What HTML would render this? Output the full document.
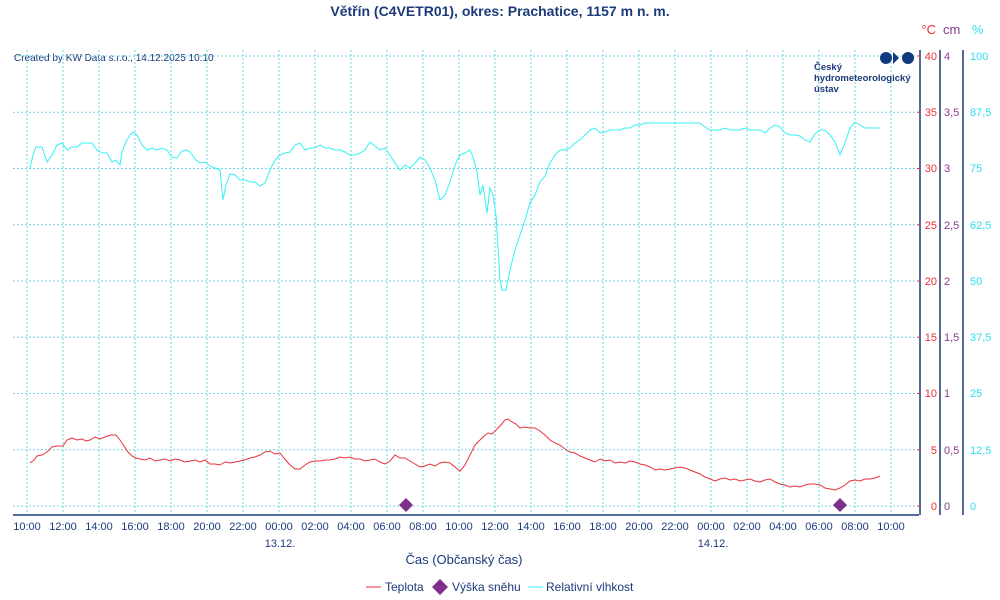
<!DOCTYPE html>
<html><head><meta charset="utf-8"><style>
html,body{margin:0;padding:0;background:#fff;}
svg{display:block;font-family:"Liberation Sans",sans-serif;}
</style></head><body>
<svg width="1000" height="600" viewBox="0 0 1000 600" xmlns="http://www.w3.org/2000/svg">
<rect width="1000" height="600" fill="#fff"/>
<text x="500" y="16" text-anchor="middle" font-size="14" font-weight="bold" fill="#1b3a7a">Větřín (C4VETR01), okres: Prachatice, 1157 m n. m.</text>
<text x="14" y="61" font-size="10" fill="#1b3a7a">Created by KW Data s.r.o., 14.12.2025 10:10</text>
<g stroke="#6fd3e0" stroke-width="1" stroke-dasharray="2,2" fill="none">
<path d="M13 56H918M13 112.25H918M13 168.5H918M13 224.75H918M13 281H918M13 337.25H918M13 393.5H918M13 449.75H918M13 506H918"/>
<path d="M27 50V515M63 50V515M99 50V515M135 50V515M171 50V515M207 50V515M243 50V515M279 50V515M315 50V515M351 50V515M387 50V515M423 50V515M459 50V515M495 50V515M531 50V515M567 50V515M603 50V515M639 50V515M675 50V515M711 50V515M747 50V515M783 50V515M819 50V515M855 50V515M891 50V515"/>
</g>
<g fill="#0e3a80">
<circle cx="886" cy="58" r="6"/><circle cx="908" cy="58" r="6"/>
<path d="M893 52 L899 58 L893 64 Z"/>
</g>
<text font-size="9.5" font-weight="bold" fill="#1b3a7a"><tspan x="814" y="70">Český</tspan><tspan x="814" y="81">hydrometeorologický</tspan><tspan x="814" y="92">ústav</tspan></text>
<g stroke="#1b3a7a" stroke-width="1.5" fill="none">
<path d="M13 515H919"/>
<path d="M920 50V515M940 50V515M963 50V515"/>
</g>
<g font-size="11" fill="#1b3a7a" text-anchor="middle">
<text x="27" y="530">10:00</text><text x="63" y="530">12:00</text><text x="99" y="530">14:00</text><text x="135" y="530">16:00</text><text x="171" y="530">18:00</text><text x="207" y="530">20:00</text><text x="243" y="530">22:00</text><text x="279" y="530">00:00</text><text x="315" y="530">02:00</text><text x="351" y="530">04:00</text><text x="387" y="530">06:00</text><text x="423" y="530">08:00</text><text x="459" y="530">10:00</text><text x="495" y="530">12:00</text><text x="531" y="530">14:00</text><text x="567" y="530">16:00</text><text x="603" y="530">18:00</text><text x="639" y="530">20:00</text><text x="675" y="530">22:00</text><text x="711" y="530">00:00</text><text x="747" y="530">02:00</text><text x="783" y="530">04:00</text><text x="819" y="530">06:00</text><text x="855" y="530">08:00</text><text x="891" y="530">10:00</text>
<text x="280" y="547">13.12.</text><text x="713" y="547">14.12.</text>
<text x="464" y="564" font-size="13">Čas (Občanský čas)</text>
</g>
<g font-size="11" fill="#e8303a" text-anchor="end">
<text x="937" y="60">40</text><text x="937" y="116">35</text><text x="937" y="172">30</text><text x="937" y="229">25</text><text x="937" y="285">20</text><text x="937" y="341">15</text><text x="937" y="397">10</text><text x="937" y="454">5</text><text x="937" y="510">0</text>
<text x="936" y="34" font-size="13">°C</text>
</g>
<g stroke="#e8303a"><path d="M917 56h3M917 112.25h3M917 168.5h3M917 224.75h3M917 281h3M917 337.25h3M917 393.5h3M917 449.75h3M917 506h3"/></g>
<g font-size="11" fill="#8a3a8a">
<text x="944" y="60">4</text><text x="944" y="116">3,5</text><text x="944" y="172">3</text><text x="944" y="229">2,5</text><text x="944" y="285">2</text><text x="944" y="341">1,5</text><text x="944" y="397">1</text><text x="944" y="454">0,5</text><text x="944" y="510">0</text>
<text x="943" y="34" font-size="13">cm</text>
</g>
<g font-size="11" fill="#2ee0f0">
<text x="970" y="60">100</text><text x="970" y="116">87,5</text><text x="970" y="172">75</text><text x="970" y="229">62,5</text><text x="970" y="285">50</text><text x="970" y="341">37,5</text><text x="970" y="397">25</text><text x="970" y="454">12,5</text><text x="970" y="510">0</text>
<text x="972" y="34" font-size="13">%</text>
</g>
<polyline fill="none" stroke="#33f0f5" stroke-width="1" points="30,168 33,155 36,147 42,147 47,162 52,155 57,145 62,143 67,150 72,147 77,147 82,143 87,143 92,143 97,150 102,153 107,153 112,162 116,160 120,165 122,152 126,142 130,135 133,132 137,135 142,145 147,150 152,148 157,150 162,148 167,150 172,157 177,158 182,151 186,150 190,152 196,160 200,163 205,162 210,166 215,168 220,170 223,200 226,185 230,174 235,175 240,180 245,180 250,182 255,182 260,186 265,183 270,170 275,160 280,155 285,153 290,152 295,145 300,143 305,150 310,148 315,148 320,145 325,148 330,148 335,150 340,150 345,152 350,155 355,155 360,153 365,150 370,142 375,146 380,150 385,148 390,155 395,163 400,170 405,165 410,168 415,163 420,157 425,160 430,168 435,180 440,200 445,195 450,182 455,165 460,155 465,153 470,150 473,157 477,172 480,195 483,185 487,213 490,188 493,195 496,215 500,280 502,290 506,290 510,270 515,250 520,235 525,220 530,203 535,195 540,182 545,176 550,163 555,155 560,150 565,150 570,148 575,143 580,140 585,135 590,130 595,128 600,133 605,132 610,130 615,130 620,130 625,128 630,128 635,125 640,125 645,123 650,123 700,123 705,127 710,130 720,130 725,128 730,130 740,130 745,128 750,130 760,130 765,133 770,128 775,125 780,127 785,133 790,135 795,135 800,136 805,140 810,142 815,134 820,130 825,130 830,135 835,142 840,155 845,143 850,128 855,122 860,125 865,128 870,128 880,128"/>
<polyline fill="none" stroke="#e8303a" stroke-width="1" points="30,463 34,460 37,456 42,455 47,452 52,447 57,446 63,446 67,440 72,438 77,440 82,439 86,441 90,440 95,437 100,439 105,437 110,435 116,435 120,440 124,446 128,452 132,456 136,458 140,459 145,460 150,458 155,461 160,460 165,459 170,461 175,459 180,460 185,462 190,461 195,460 200,462 205,460 210,464 215,464 220,465 225,462 230,463 235,462 240,461 245,460 250,458 255,457 260,455 265,452 270,451 275,454 280,453 284,458 290,465 295,469 300,469 305,465 310,462 315,461 320,461 325,460 330,460 335,459 340,457 345,458 350,457 355,459 360,459 365,461 370,460 375,459 380,462 385,464 390,461 395,455 400,458 405,458 410,461 415,464 420,467 425,466 430,464 435,466 440,463 445,462 450,463 455,467 460,471 465,465 470,455 475,445 480,440 484,436 488,433 492,434 496,430 500,426 505,420 508,419 512,422 516,424 520,428 525,427 530,428 535,428 540,431 545,435 550,440 555,443 560,445 565,449 570,452 575,453 580,456 585,458 590,460 595,462 600,459 605,461 610,460 615,463 620,462 625,463 630,461 635,462 640,464 645,465 650,467 655,470 660,469 665,470 670,469 675,468 680,467 685,468 690,470 695,472 700,474 705,477 710,479 715,481 720,479 725,478 730,480 735,479 740,481 745,480 750,479 755,481 760,482 765,480 770,479 775,482 780,484 785,485 790,487 795,486 800,487 805,485 810,484 815,484 820,485 825,488 830,489 835,490 840,488 845,485 850,481 855,480 860,481 865,479 870,479 875,478 880,476"/>
<g fill="#7e2f8a">
<path d="M406 498 L413 505 L406 512 L399 505 Z"/>
<path d="M840 498 L847 505 L840 512 L833 505 Z"/>
</g>
<g font-size="12" fill="#1b3a7a">
<line x1="366" y1="587" x2="381" y2="587" stroke="#e8303a"/>
<text x="385" y="591">Teplota</text>
<path d="M440 579 L448 587 L440 595 L432 587 Z" fill="#7e2f8a"/>
<text x="452" y="591">Výška sněhu</text>
<line x1="528" y1="587" x2="543" y2="587" stroke="#33f0f5"/>
<text x="546" y="591">Relativní vlhkost</text>
</g>
</svg>
</body></html>
